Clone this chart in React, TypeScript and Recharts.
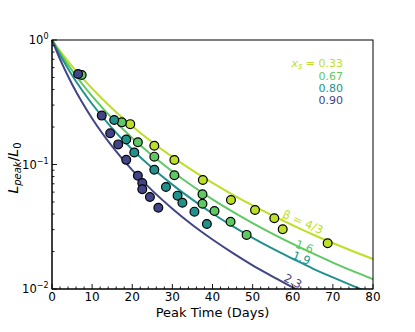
import { ComposedChart, Line, Scatter, XAxis, YAxis } from "recharts";

// model curves, one per beta
const days = [0, 2.5, 5, 7.5, 10, 15, 20, 25, 30, 35, 40, 45, 50, 55, 60, 65, 70, 75, 80];
const beta43 = [1, 0.779, 0.618, 0.498, 0.4075, 0.2822, 0.2032, 0.1509, 0.115, 0.0896, 0.0711, 0.0573, 0.0469, 0.0388, 0.0325, 0.0274, 0.0234, 0.0201, 0.0174];
const beta16 = [1, 0.7454, 0.5699, 0.4453, 0.3542, 0.2347, 0.1632, 0.1179, 0.0879, 0.0672, 0.0525, 0.0418, 0.0338, 0.0277, 0.023, 0.0193, 0.0163, 0.0139, 0.012];
const beta19 = [1, 0.709, 0.5212, 0.3947, 0.3061, 0.1951, 0.1321, 0.0937, 0.0689, 0.0522, 0.0404, 0.032, 0.0258, 0.0211, 0.0175, 0.0146, 0.0124, 0.0106, 0.0091];
const beta23 = [1, 0.6454, 0.4417, 0.3162, 0.2344, 0.1397, 0.0902, 0.0617, 0.0442, 0.0327, 0.025, 0.0195, 0.0155, 0.0126, 0.0103, 0.0086, null, null, null];

// simulated peaks, per x_s
const days033 = [19.5, 25.5, 30.5, 37.6, 44.6, 50.6, 55.4, 57.5, 68.7];
const peak033 = [0.211, 0.1416, 0.1087, 0.0751, 0.0519, 0.0431, 0.037, 0.0302, 0.0233];
const days067 = [7.4, 17.4, 21.4, 25.5, 30.5, 37.5, 37.5, 40.5, 44.5, 48.5];
const peak067 = [0.524, 0.218, 0.151, 0.1156, 0.0819, 0.0576, 0.0484, 0.0423, 0.0347, 0.0272];
const days080 = [15.5, 18.5, 20.5, 25.5, 28.4, 31.3, 32.5, 35.5, 38.6];
const peak080 = [0.228, 0.159, 0.125, 0.0908, 0.066, 0.0562, 0.0493, 0.0418, 0.0333];
const days090 = [6.5, 12.4, 14.5, 16.5, 18.5, 21.4, 22.5, 22.5, 24.4, 26.5];
const peak090 = [0.533, 0.247, 0.178, 0.145, 0.109, 0.0813, 0.071, 0.0632, 0.0548, 0.045];

const xTicks = Array.from({ length: 41 }, (_, i) => i * 2);
const yTicks = [0.01, 0.02, 0.03, 0.04, 0.05, 0.06, 0.07, 0.08, 0.09, 0.1, 0.2, 0.3, 0.4, 0.5, 0.6, 0.7, 0.8, 0.9, 1];

const YELLOW = "#bddf26";
const GREEN = "#5ec962";
const TEAL = "#21918c";
const DARK = "#414487";
const FONT = "DejaVu Sans, sans-serif";

const rows = days.map((t, i) => ({ t, b43: beta43[i], b16: beta16[i], b19: beta19[i], b23: beta23[i] }));
const pts = (ds: number[], ps: number[]) => ds.map((t, i) => ({ t, peak: ps[i] }));

function XTick(props: any) {
  const { x, y, payload } = props;
  const v = payload.value;
  const major = v % 10 === 0;
  return (
    <g>
      <line x1={x} x2={x} y1={y} y2={y - (major ? 5 : 2.5)} stroke="#000" strokeWidth={0.9} />
      {major && (
        <text x={x} y={y + 12} textAnchor="middle" fontSize={12} fontFamily={FONT} fill="#000">
          {v}
        </text>
      )}
    </g>
  );
}

function YTick(props: any) {
  const { x, y, payload } = props;
  const v = payload.value;
  const exp = Math.round(Math.log10(v));
  const major = Math.abs(v - Math.pow(10, exp)) < 1e-9;
  return (
    <g>
      <line x1={x} x2={x + (major ? 5 : 2.5)} y1={y} y2={y} stroke="#000" strokeWidth={0.9} />
      {major && (
        <text x={x - 3.5} y={y + 4} textAnchor="end" fontSize={11.5} fontFamily={FONT} fill="#000">
          10
          <tspan dy={-5} fontSize={8}>
            {exp === 0 ? "0" : "\u2212" + Math.abs(exp)}
          </tspan>
        </text>
      )}
    </g>
  );
}

const dot = (color: string) => (p: any) => (
  <circle cx={p.cx} cy={p.cy} r={4.4} fill={color} stroke="#000" strokeWidth={1.2} />
);

export default function App() {
  return (
    <div style={{ position: "absolute", left: 0, top: 0, width: 415, height: 332, background: "#fff" }}>
      <ComposedChart width={415} height={332} margin={{ top: 40, right: 42, bottom: 13, left: 12 }}>
        <XAxis
          dataKey="t"
          type="number"
          domain={[0, 80]}
          ticks={xTicks}
          interval={0}
          height={30}
          tickSize={0}
          tickMargin={0}
          tickLine={false}
          tick={<XTick />}
          axisLine={{ stroke: "#000" }}
        />
        <YAxis
          type="number"
          scale="log"
          domain={[0.01, 1]}
          allowDataOverflow
          ticks={yTicks}
          interval={0}
          width={40}
          tickSize={0}
          tickMargin={0}
          tickLine={false}
          tick={<YTick />}
          axisLine={{ stroke: "#000" }}
        />
        <Line data={rows} dataKey="b43" type="monotone" stroke={YELLOW} strokeWidth={2} dot={false} isAnimationActive={false} />
        <Line data={rows} dataKey="b16" type="monotone" stroke={GREEN} strokeWidth={2} dot={false} isAnimationActive={false} />
        <Line data={rows} dataKey="b19" type="monotone" stroke={TEAL} strokeWidth={2} dot={false} isAnimationActive={false} />
        <Line data={rows} dataKey="b23" type="monotone" stroke={DARK} strokeWidth={2} dot={false} isAnimationActive={false} />
        <Scatter data={pts(days033, peak033)} dataKey="peak" shape={dot(YELLOW)} isAnimationActive={false} />
        <Scatter data={pts(days067, peak067)} dataKey="peak" shape={dot(GREEN)} isAnimationActive={false} />
        <Scatter data={pts(days080, peak080)} dataKey="peak" shape={dot(TEAL)} isAnimationActive={false} />
        <Scatter data={pts(days090, peak090)} dataKey="peak" shape={dot(DARK)} isAnimationActive={false} />
      </ComposedChart>
      <svg
        width={415}
        height={332}
        style={{ position: "absolute", left: 0, top: 0, pointerEvents: "none" }}
        fontFamily={FONT}
      >
        <rect x={52} y={40} width={321} height={249} fill="none" stroke="#000" strokeWidth={1} />
        <text x={212.5} y={317} textAnchor="middle" fontSize={13} fill="#000">
          Peak Time (Days)
        </text>
        <text x={18} y={168} textAnchor="middle" fontSize={14} fill="#000" transform="rotate(-90 18 168)">
          <tspan fontStyle="italic">L</tspan>
          <tspan fontStyle="italic" fontSize={10} dy={3}>peak</tspan>
          <tspan dy={-3}>/</tspan>
          <tspan fontStyle="italic">L</tspan>
          <tspan fontSize={10} dy={3}>0</tspan>
        </text>
        <g fontSize={11} textAnchor="end">
          <text x={343} y={67} fill={YELLOW}>
            <tspan fontStyle="italic">x</tspan>
            <tspan fontStyle="italic" fontSize={8} dy={2}>s</tspan>
            <tspan dy={-2}> = 0.33</tspan>
          </text>
          <text x={343} y={79.5} fill={GREEN}>0.67</text>
          <text x={343} y={92} fill={TEAL}>0.80</text>
          <text x={343} y={103.5} fill={DARK}>0.90</text>
        </g>
        <g fontSize={11.5} textAnchor="middle">
          <text x={303} y={226} fill={YELLOW} transform="rotate(24 303 222)">{"\u03b2 = 4/3"}</text>
          <text x={304.5} y={250.5} fill={GREEN} transform="rotate(20 304.5 246.5)">1.6</text>
          <text x={301.5} y={262} fill={TEAL} transform="rotate(21 301.5 258)">1.9</text>
          <text x={293} y={285} fill={DARK} transform="rotate(27 293 281)">2.3</text>
        </g>
      </svg>
    </div>
  );
}
